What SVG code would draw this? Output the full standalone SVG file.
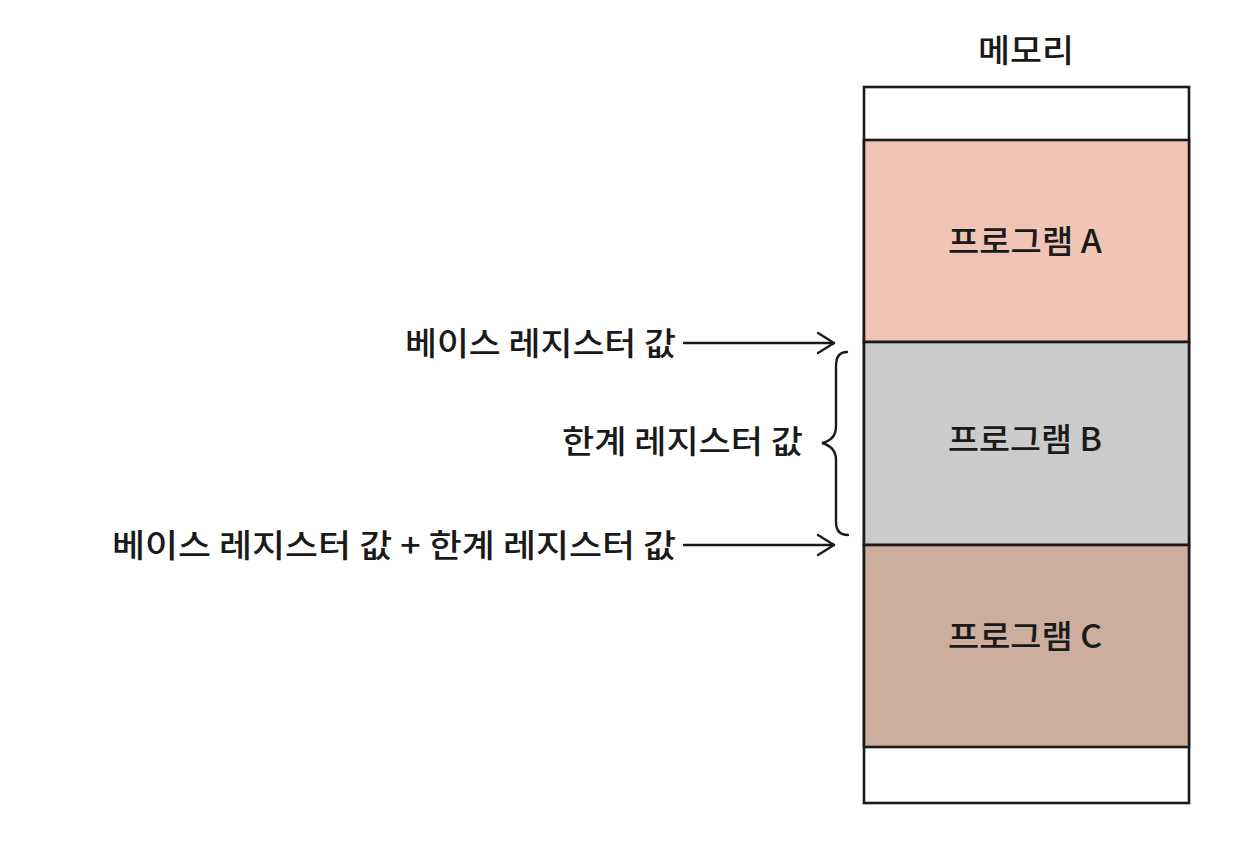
<svg xmlns="http://www.w3.org/2000/svg" width="1236" height="846" viewBox="0 0 1236 846">
<defs>
<marker id="arr" viewBox="0 0 20 24" refX="18" refY="12" markerWidth="20" markerHeight="24" markerUnits="userSpaceOnUse" orient="auto">
<path d="M2 2 L18 12 L2 22" fill="none" stroke="#1a1a1a" stroke-width="2.4" stroke-linecap="round" stroke-linejoin="round"/>
</marker>
</defs>
<style>
text{font-family:"Noto Sans CJK KR","Noto Sans",sans-serif;fill:#1a1a1a;font-weight:500}
.t{font-size:32px}
.seg{stroke:#1a1a1a;stroke-width:2.6}
.ln{fill:none;stroke:#1a1a1a;stroke-width:2.4;stroke-linecap:round}
</style>
<rect width="1236" height="846" fill="#ffffff"/>
<g id="memory">
<text class="t" x="978" y="62" textLength="96" lengthAdjust="spacingAndGlyphs">메모리</text>
<rect x="864" y="87" width="325" height="716" fill="#ffffff" class="seg"/>
</g>
<g id="programA">
<rect x="864" y="140" width="325" height="202" fill="#F0C5B5" class="seg"/>
<text class="t" x="948" y="253" textLength="154" lengthAdjust="spacingAndGlyphs">프로그램 A</text>
</g>
<g id="programB">
<rect x="864" y="342" width="325" height="203" fill="#CBCBCB" class="seg"/>
<text class="t" x="948" y="451" textLength="154" lengthAdjust="spacingAndGlyphs">프로그램 B</text>
</g>
<g id="programC">
<rect x="864" y="545" width="325" height="202" fill="#CDAD9E" class="seg"/>
<text class="t" x="948" y="648" textLength="154" lengthAdjust="spacingAndGlyphs">프로그램 C</text>
</g>
<g id="labels">
<text class="t" x="405" y="355" textLength="271" lengthAdjust="spacingAndGlyphs">베이스 레지스터 값</text>
<text class="t" x="562" y="453" textLength="241" lengthAdjust="spacingAndGlyphs">한계 레지스터 값</text>
<text class="t" x="112" y="557" textLength="564" lengthAdjust="spacingAndGlyphs">베이스 레지스터 값 + 한계 레지스터 값</text>
</g>
<g id="connectors">
<path class="ln" d="M684 343 L834 343" marker-end="url(#arr)"/>
<path class="ln" d="M684 545 L834 545" marker-end="url(#arr)"/>
<path class="ln" d="M847 352 Q836 352 836 366 L836 426 Q836 440 822 443 Q836 447 836 460 L836 522 Q836 535 848 535"/>
</g>
</svg>
